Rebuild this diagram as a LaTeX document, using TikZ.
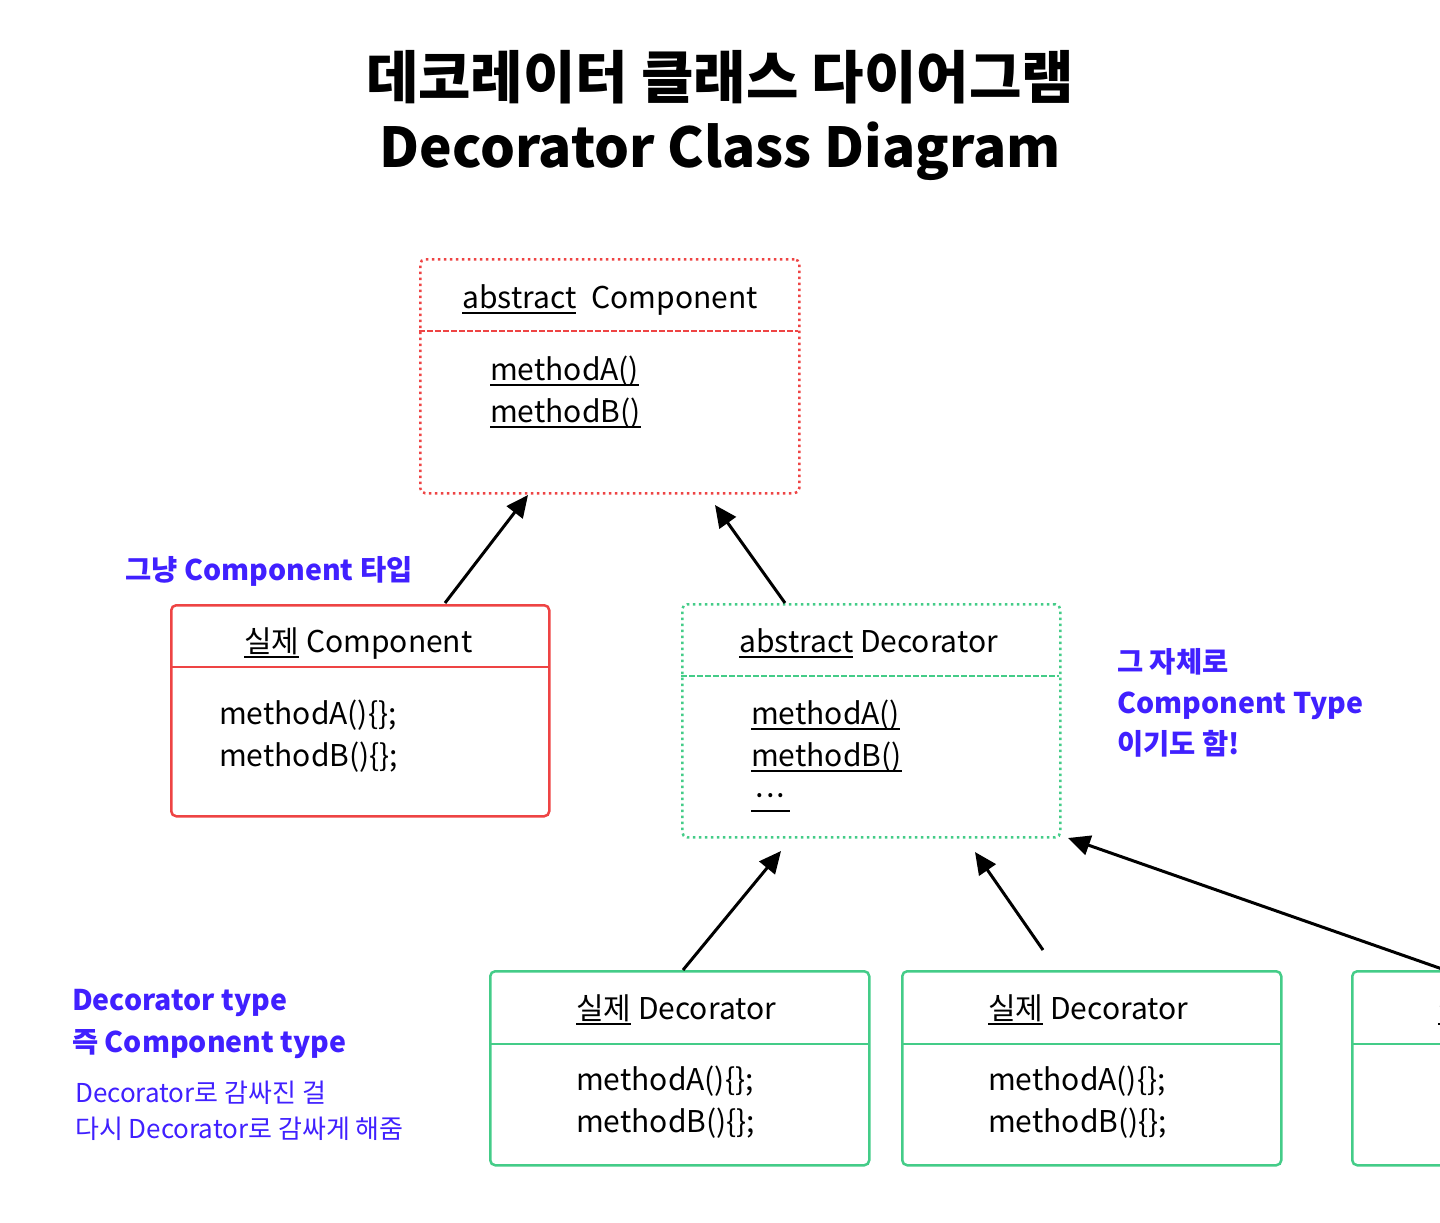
\documentclass[tikz,border=0pt]{standalone}
\usepackage{fontspec}
\setmainfont{Noto Sans CJK KR}
\usetikzlibrary{arrows.meta}
\definecolor{cred}{HTML}{EE4444}
\definecolor{cgreen}{HTML}{44CC88}
\definecolor{cblue}{HTML}{4020FF}
\newcommand\myul[1]{\setbox0\hbox{#1}\rlap{\rule[-6pt]{\wd0}{2pt}}\box0\relax}
\tikzset{
  boxred/.style={draw=cred, line width=2.5pt, rounded corners=5pt, anchor=north west, inner sep=0pt},
  boxgreen/.style={draw=cgreen, line width=2.5pt, rounded corners=5pt, anchor=north west, inner sep=0pt},
  dotbox/.style={dotted, line width=2.5pt, dash pattern=on 2.5pt off 3.5pt},
  txt/.style={anchor=base west, inner sep=0pt, font=\fontsize{30}{34}\selectfont},
  lbl/.style={anchor=base west, inner sep=0pt, text=cblue, font=\fontsize{28.5}{34}\selectfont\bfseries},
  lbls/.style={anchor=base west, inner sep=0pt, text=cblue, font=\fontsize{26}{30}\selectfont},
  inh/.style={-{Triangle[length=22pt,width=20pt]}, line width=3pt, shorten >=0pt},
}
\begin{document}
\begin{tikzpicture}[x=1pt,y=-1pt]
\useasboundingbox (0,0) rectangle (1440,1223);
\clip (0,0) rectangle (1440,1223);
% title
\node[anchor=base, inner sep=0pt, font=\fontsize{57}{70}\selectfont\bfseries] (t1) at (720,98) {데코레이터 클래스 다이어그램};
\node[anchor=base, inner sep=0pt, font=\fontsize{55}{70}\selectfont\bfseries] (t2) at (720,167) {Decorator Class Diagram};

% abstract Component
\node[boxred, dotbox, minimum width=379pt, minimum height=234pt] (ac) at (419,258) {};
\draw[cred, line width=2.5pt, dash pattern=on 6pt off 2pt] (419,331) -- (798,331);
\node[txt] (ac1) at (462,308) {\myul{abstract}\hspace{0.5em}Component};
\node[txt] (ac2) at (490,380) {\myul{methodA()}};
\node[txt] (ac3) at (490,422) {\myul{methodB()}};

% concrete Component
\node[boxred, minimum width=378pt, minimum height=211pt] (cc) at (170,604) {};
\draw[cred, line width=2.5pt] (170,667) -- (548,667);
\node[txt] (cc1) at (244,652) {\myul{실제} Component};
\node[txt] (cc2) at (219,724) {methodA()\{\};};
\node[txt] (cc3) at (219,766) {methodB()\{\};};

% abstract Decorator
\node[boxgreen, dotbox, minimum width=378pt, minimum height=233pt] (ad) at (681,603) {};
\draw[cgreen, line width=2.5pt, dash pattern=on 6pt off 2pt] (681,676) -- (1059,676);
\node[txt] (ad1) at (739,652) {\myul{abstract} Decorator};
\node[txt] (ad2) at (751,724) {\myul{methodA()}};
\node[txt] (ad3) at (751,766) {\myul{methodB()}};
\node[txt] (ad4) at (751,806) {\myul{·\kern-6pt·\kern-6pt·}};

% concrete Decorators
\foreach \nm/\x in {d1/489, d2/901, d3/1351} {
  \node[boxgreen, minimum width=379pt, minimum height=194pt] (\nm) at (\x,970) {};
  \draw[cgreen, line width=2.5pt] (\x,1044) -- ++(379,0);
  \node[txt] (\nm t) at (\x+87,1019) {\myul{실제} Decorator};
  \node[txt] (\nm a) at (\x+87,1090) {methodA()\{\};};
  \node[txt] (\nm b) at (\x+87,1132) {methodB()\{\};};
}

% arrows
\coordinate (a1e) at (528,495);
\coordinate (a2e) at (715,505);
\coordinate (a3e) at (781,851);
\coordinate (a4s) at (1043,950);
\coordinate (a4e) at (975,852);
\coordinate (a5e) at (1068,838);
\coordinate (a1s) at (445,603);
\coordinate (a2s) at (785,603);
\coordinate (a3s) at (683,970);
\coordinate (a5s) at (1445,970);
\draw[inh] (a1s) -- (a1e);
\draw[inh] (a2s) -- (a2e);
\draw[inh] (a3s) -- (a3e);
\draw[inh] (a4s) -- (a4e);
\draw[inh] (a5s) -- (a5e);

% labels
\node[lbl] (l1) at (125,580) {그냥 Component 타입};
\node[lbl] (l2) at (1117,672) {그 자체로};
\node[lbl] (l3) at (1117,713) {Component Type};
\node[lbl] (l4) at (1117,754) {이기도 함!};
\node[lbl] (l5) at (72,1010) {Decorator type};
\node[lbl] (l6) at (72,1052) {즉 Component type};
\node[lbls] (l7) at (75,1102) {Decorator로 감싸진 걸};
\node[lbls] (l8) at (75,1138) {다시 Decorator로 감싸게 해줌};
\end{tikzpicture}
\end{document}
